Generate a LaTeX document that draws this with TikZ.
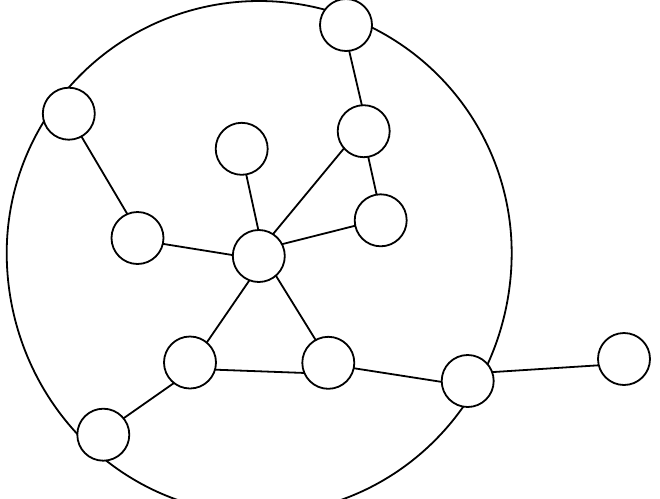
\documentclass[tikz,border=0pt]{standalone}
\begin{document}
\begin{tikzpicture}[x=0.5pt,y=-0.5pt,
  vertex/.style={circle,draw,fill=white,line width=0.9pt,minimum size=26pt,inner sep=0pt,outer sep=0pt},
  edge/.style={line width=0.9pt},
  rim/.style={line width=0.9pt}]
\useasboundingbox (0,0) rectangle (660,499);
\clip (0,0) rectangle (660,499);
\draw[rim] plot[domain=0:180,samples=120,smooth] ({259.2+252.5*cos(\x)},{253-252*sin(\x)})
  -- plot[domain=180:360,samples=120,smooth] ({259.2+252.5*cos(\x)},{253-261*sin(\x)}) -- cycle;
\node[vertex] (t)   at (346,25) {};
\node[vertex] (lt)  at (68.8,113.7) {};
\node[vertex] (ct)  at (241.7,148.8) {};
\node[vertex] (ru)  at (363.7,131.2) {};
\node[vertex] (rl)  at (380.7,220.3) {};
\node[vertex] (lm)  at (137.5,238) {};
\node[vertex] (c)   at (258.8,256) {};
\node[vertex] (bl2) at (190,362.5) {};
\node[vertex] (bm)  at (328.3,362.8) {};
\node[vertex] (r)   at (467.7,381) {};
\node[vertex] (fr)  at (624,359) {};
\node[vertex] (bl)  at (103.3,434.7) {};
\draw[edge] (t.-83) -- (ru.94);
\draw[edge] (ru.-80) -- (rl.99);
\draw[edge] (ru.221) -- (c.57);
\draw[edge] (rl.192) -- (c.27);
\draw[edge] (ct.-80) -- (c.91);
\draw[edge] (lt.-61) -- (lm.113);
\draw[edge] (lm.-13) -- (c.178);
\draw[edge] (c.-111) -- (bl2.50);
\draw[edge] (c.-49) -- (bm.119);
\draw[edge] (bl2.-16) -- (bm.203);
\draw[edge] (bl2.-128) -- (bl.39);
\draw[edge] (bm.-12) -- (r.182);
\draw[edge] (r.20) -- (fr.194);
\end{tikzpicture}
\end{document}
